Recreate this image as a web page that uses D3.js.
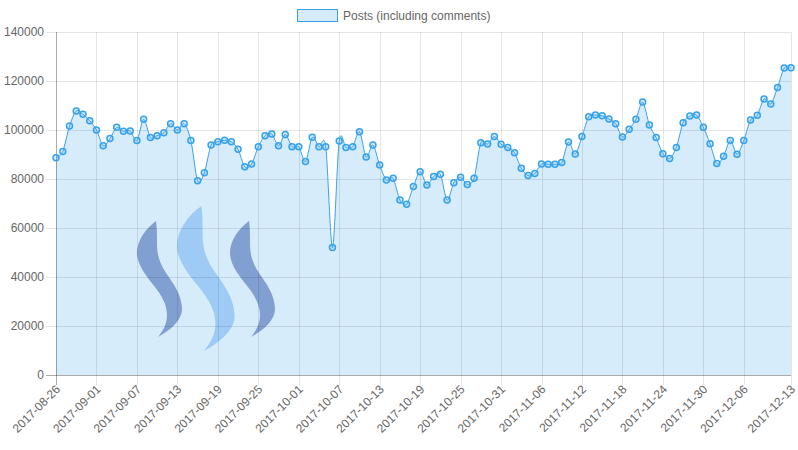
<!DOCTYPE html>
<html>
<head>
<meta charset="utf-8">
<script src="https://cdn.jsdelivr.net/npm/d3@7"></script>
<style>
  body { margin: 0; background: #fff; }
  svg { display: block; font-family: "Liberation Sans", Arial, sans-serif; }
</style>
</head>
<body>
<div id="chart"></div>
<script>
"use strict"

// data: one value per day, 2017-08-26 .. 2017-12-13
const startDay = new Date(2017, 7, 26), endDay = new Date(2017, 11, 14)
const days = d3.timeDays(startDay, endDay).map(d3.timeFormat("%Y-%m-%d"))
const posts = [
  88700, 91200, 101600, 107800, 106400, 103800, 100000, 93600, 96500, 101100,
  99500, 99600, 95700, 104400, 96900, 97700, 98900, 102600, 100000, 102600,
  95700, 79300, 82600, 93900, 95200, 95800, 95200, 92100, 85000, 86100,
  93200, 97700, 98400, 93600, 98200, 93200, 93200, 87100, 97000, 93200,
  93200, 52000, 95500, 92900, 93200, 99300, 89000, 93900, 85700, 79600,
  80300, 71400, 69700, 76900, 83000, 77600, 81000, 81900, 71400, 78500,
  80700, 77800, 80300, 94800, 94300, 97300, 94200, 92900, 90700, 84400,
  81400, 82200, 86100, 86000, 86000, 86700, 95100, 90200, 97300, 105400,
  106100, 105800, 104500, 102600, 97100, 100300, 104400, 111400, 102000, 96900,
  90300, 88400, 92900, 103000, 105700, 106100, 101100, 94400, 86300, 89300,
  95700, 90100, 95700, 104100, 106000, 112700, 110600, 117300, 125300, 125400
]
const yTicks = [0, 20000, 40000, 60000, 80000, 100000, 120000, 140000]
const seriesName = "Posts (including comments)"

const W = 798, H = 450
const margin = {top: 32, right: 7, bottom: 75, left: 56},
  width = W - margin.left - margin.right,
  height = H - margin.top - margin.bottom

const svg = d3.select("#chart").append("svg")
  .attr("width", W)
  .attr("height", H)

const g = svg.append("g")
  .attr("transform", "translate(" + margin.left + "," + margin.top + ")")

const x = d3.scalePoint().domain(d3.range(days.length)).range([0, width])
const y = d3.scaleLinear().domain([0, 140000]).range([height, 0])

// shown x labels, like chart.js autoskip (every 6th, last one kept)
const xTicks = d3.range(days.length).filter(i => (i % 6 === 0 && i + 6 < days.length) || i === days.length - 1)

// area under the line
const curve = d3.curveCardinal.tension(0.1)
g.append("path")
  .datum(posts)
  .attr("fill", "rgba(54,162,235,0.2)")
  .attr("d", d3.area().x((d, i) => x(i)).y0(height).y1(d => y(d)).curve(curve))

// steem logo watermark (one blade, reused three times)
const blade = "M19 0 C8 8,0 20,0 32 C0 44,10 56,18 66 C25 75,30 84,30 94 C30 104,25 111,21 116 " +
  "C32 110,45 100,45 88 C45 74,36 62,29 52 C23 43,20 34,20 24 C20 14,20 6,19 0 Z"
const logo = g.append("g").attr("transform", "translate(-56,-32)")
logo.append("path").attr("d", blade).attr("fill", "#819fd0")
  .attr("transform", "translate(137,221)")
logo.append("path").attr("d", blade).attr("fill", "#9dcbf5")
  .attr("transform", "translate(177,206) scale(1.28,1.25)")
logo.append("path").attr("d", blade).attr("fill", "#819fd0")
  .attr("transform", "translate(230,221)")

// grid
const grid = g.append("g").attr("stroke", "rgba(0,0,0,0.1)").attr("stroke-width", 1)
grid.selectAll(".hg").data(yTicks).enter().append("line")
  .attr("x1", -10).attr("x2", width)
  .attr("y1", d => Math.round(y(d)) + 0.5).attr("y2", d => Math.round(y(d)) + 0.5)
grid.selectAll(".vg").data(xTicks).enter().append("line")
  .attr("y1", 0).attr("y2", height + 10)
  .attr("x1", d => Math.round(x(d)) + 0.5).attr("x2", d => Math.round(x(d)) + 0.5)
g.append("line").attr("stroke", "rgba(0,0,0,0.25)")
  .attr("x1", -10).attr("x2", width).attr("y1", height + 0.5).attr("y2", height + 0.5)
g.append("line").attr("stroke", "rgba(0,0,0,0.25)")
  .attr("x1", 0.5).attr("x2", 0.5).attr("y1", 0).attr("y2", height + 10)

// y labels
g.selectAll(".yl").data(yTicks).enter().append("text")
  .attr("x", -12).attr("y", d => y(d)).attr("dy", "0.35em")
  .attr("text-anchor", "end").attr("fill", "#666").style("font-size", "12px")
  .text(d => d)

// x labels
g.selectAll(".xl").data(xTicks).enter().append("text")
  .attr("transform", d => "translate(" + (x(d) + 2) + "," + (height + 12) + ") rotate(-45)")
  .attr("dy", "0.35em")
  .attr("text-anchor", "end").attr("fill", "#666").style("font-size", "12px")
  .text(d => days[d])

// line + points
g.append("path")
  .datum(posts)
  .attr("fill", "none")
  .attr("stroke", "rgb(54,162,235)")
  .attr("stroke-width", 1)
  .attr("d", d3.line().x((d, i) => x(i)).y(d => y(d)).curve(curve))

g.selectAll(".pt").data(posts).enter().append("circle")
  .attr("cx", (d, i) => x(i)).attr("cy", d => y(d)).attr("r", 3)
  .attr("fill", "rgba(54,162,235,0.2)")
  .attr("stroke", "rgb(54,162,235)")
  .attr("stroke-width", 1.5)

// legend
svg.append("rect")
  .attr("x", 297.5).attr("y", 9.5).attr("width", 40).attr("height", 12)
  .attr("fill", "rgba(54,162,235,0.2)").attr("stroke", "rgb(54,162,235)")
svg.append("text")
  .attr("x", 343).attr("y", 16).attr("dy", "0.35em")
  .attr("fill", "#666").style("font-size", "12px")
  .text(seriesName)
</script>
</body>
</html>
